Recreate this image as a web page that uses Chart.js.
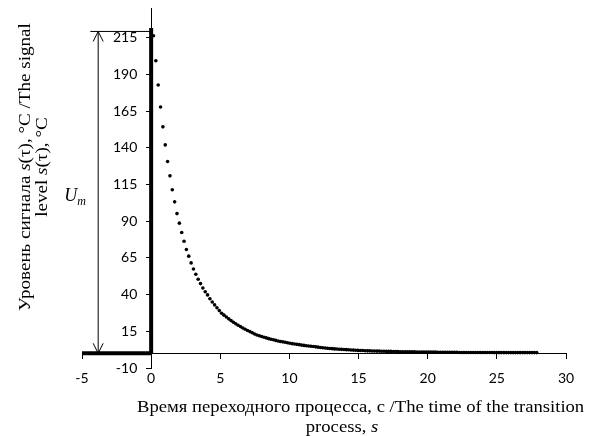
<!DOCTYPE html>
<html><head><meta charset="utf-8">
<script src="https://cdn.jsdelivr.net/npm/chart.js@4/dist/chart.umd.min.js"></script>
<style>html,body{margin:0;padding:0;background:#fff;}#wrap{width:590px;height:436px;position:relative;}</style>
</head><body><div id="wrap"><canvas id="c" width="590" height="436"></canvas></div>
<script>
// ---- data ----
const TIME_S = [0.17,0.34,0.51,0.68,0.85,1.02,1.19,1.36,1.53,1.70,1.87,2.04,2.21,2.38,2.55,2.72,2.89,3.06,3.23,3.40,
3.57,3.74,3.91,4.08,4.25,4.42,4.59,4.76,4.93,5.10,5.27,5.44,5.61,5.78,5.95,6.12,6.29,6.46,6.63,6.80,
6.97,7.14,7.31,7.48,7.65,7.82,7.99,8.16,8.33,8.50,8.67,8.84,9.01,9.18,9.35,9.52,9.69,9.86,10.03,10.20,
10.37,10.54,10.71,10.88,11.05,11.22,11.39,11.56,11.73,11.90,12.07,12.24,12.41,12.58,12.75,12.92,13.09,13.26,13.43,13.60,
13.77,13.94,14.11,14.28,14.45,14.62,14.79,14.96,15.13,15.30,15.47,15.64,15.81,15.98,16.15,16.32,16.49,16.66,16.83,17.00,
17.17,17.34,17.51,17.68,17.85,18.02,18.19,18.36,18.53,18.70,18.87,19.04,19.21,19.38,19.55,19.72,19.89,20.06,20.23,20.40,
20.57,20.74,20.91,21.08,21.25,21.42,21.59,21.76,21.93,22.10,22.27,22.44,22.61,22.78,22.95,23.12,23.29,23.46,23.63,23.80,
23.97,24.14,24.31,24.48,24.65,24.82,24.99,25.16,25.33,25.50,25.67,25.84,26.01,26.18,26.35,26.52,26.69,26.86,27.03,27.20,
27.37,27.54,27.71,27.88];
const SIGNAL_C = [216.4,199.3,182.8,167.8,154.3,142.0,130.7,120.9,111.4,103.2,95.2,88.7,82.3,76.4,70.7,66.2,61.6,57.5,53.9,50.5,
47.5,44.5,42.0,39.8,37.2,35.0,33.0,31.0,29.1,27.3,26.0,24.7,23.5,22.3,21.2,20.1,19.1,18.2,17.3,16.4,
15.6,14.8,14.0,13.2,12.5,12.0,11.5,11.0,10.5,10.0,9.6,9.2,8.8,8.4,8.1,7.8,7.5,7.2,6.9,6.6,
6.4,6.1,5.9,5.6,5.4,5.2,5.0,4.8,4.6,4.4,4.2,4.0,3.8,3.6,3.5,3.3,3.2,3.0,2.9,2.8,
2.7,2.6,2.5,2.4,2.3,2.2,2.1,2.0,1.9,1.9,1.8,1.7,1.7,1.6,1.6,1.5,1.5,1.4,1.4,1.3,
1.3,1.3,1.2,1.2,1.2,1.1,1.1,1.1,1.0,1.0,1.0,1.0,0.9,0.9,0.9,0.9,0.8,0.8,0.8,0.8,
0.8,0.7,0.7,0.7,0.7,0.7,0.7,0.7,0.7,0.7,0.6,0.6,0.6,0.6,0.6,0.6,0.6,0.6,0.6,0.6,
0.6,0.6,0.6,0.6,0.6,0.5,0.5,0.5,0.5,0.5,0.5,0.5,0.5,0.5,0.5,0.5,0.5,0.5,0.5,0.5,
0.5,0.5,0.5,0.5];
const X_TICKS = [-5,0,5,10,15,20,25,30];
const Y_TICKS = [-10,15,40,65,90,115,140,165,190,215];
const X_RANGE = [-5,30];
const Y_RANGE = [-10,235];
const Y_LABEL_AT_X = -1.0;   // where the y tick labels end (data units)
// Um annotation (data units)
const UM_X = -3.83;
const UM_LEVEL = 219.3;
const UM_LINE_START = -4.4;
const BASE_BAR_TOP = 221.6;
// titles (text runs: [text, italic])
const Y_TITLE_1 = [['Уровень сигнала ',0],['s',1],['(τ), °C /The signal',0]];
const Y_TITLE_2 = [['level ',0],['s',1],['(τ), °C',0]];
const X_TITLE_1 = [['Время переходного процесса, с /The time of the transition',0]];
const X_TITLE_2 = [['process, ',0],['s',1]];

const SERIF = '"Liberation Serif","Times New Roman",serif';
const TICK_FONT = {family:'Lato, "Open Sans", sans-serif', size:14};
const TITLE_SIZE = 17.5;

function drawRuns(ctx, runs, x, y, size, align, stretch){
  let total = 0; const ws = [];
  runs.forEach(r => { ctx.font = (r[1]?'italic ':'') + size + 'px ' + SERIF; const w = ctx.measureText(r[0]).width; ws.push(w); total += w; });
  ctx.save();
  ctx.translate(x, y); ctx.scale(stretch, 1);
  let cx = align === 'left' ? 0 : -total/2;
  runs.forEach((r,i) => { ctx.font = (r[1]?'italic ':'') + size + 'px ' + SERIF; ctx.fillText(r[0], cx, 0); cx += ws[i]; });
  ctx.restore();
}

const decor = {
  id:'decor',
  afterDatasetsDraw(chart){
    const ctx = chart.ctx, xs = chart.scales.x, ys = chart.scales.y;
    const ax = xs.getPixelForValue(UM_X), top = ys.getPixelForValue(UM_LEVEL), bot = ys.getPixelForValue(0);
    ctx.save();
    ctx.strokeStyle = '#000'; ctx.lineWidth = 1;
    ctx.beginPath();
    ctx.moveTo(ax-5, top+10); ctx.lineTo(ax, top); ctx.lineTo(ax+5, top+10);
    ctx.moveTo(ax-5, bot-10); ctx.lineTo(ax, bot); ctx.lineTo(ax+5, bot-10);
    ctx.stroke();
    ctx.fillStyle = '#000'; ctx.textBaseline = 'alphabetic'; ctx.textAlign = 'left';
    ctx.font = 'italic 18px ' + SERIF; ctx.fillText('U', ax-34, 201);
    const uw = ctx.measureText('U').width;
    ctx.font = 'italic 12px ' + SERIF; ctx.fillText('m', ax-34+uw, 205);
    ctx.restore();
  },
  afterDraw(chart){
    const ctx = chart.ctx;
    ctx.save(); ctx.fillStyle = '#000'; ctx.textBaseline = 'alphabetic'; ctx.textAlign = 'left';
    drawRuns(ctx, X_TITLE_1, 137, 412, TITLE_SIZE, 'left', 1.065);
    drawRuns(ctx, X_TITLE_2, 342, 432, TITLE_SIZE, 'center', 1.065);
    ctx.translate(30, 167); ctx.rotate(-Math.PI/2);
    drawRuns(ctx, Y_TITLE_1, 0, 0, TITLE_SIZE, 'center', 1.09);
    drawRuns(ctx, Y_TITLE_2, 0, 17, TITLE_SIZE, 'center', 1.09);
    ctx.restore();
  }
};

const lineDs = (data, w) => ({type:'scatter', data, showLine:true, borderColor:'#000', borderWidth:w, pointRadius:0, clip:false, order:1});

new Chart(document.getElementById('c'), {
  type:'scatter',
  data:{datasets:[
    {data: TIME_S.map((t,i)=>({x:t, y:SIGNAL_C[i]})), backgroundColor:'#000', borderColor:'#000', pointRadius:1.8, pointBorderWidth:0, order:0},
    lineDs([{x:0,y:0},{x:0,y:BASE_BAR_TOP}], 4),
    lineDs([{x:X_RANGE[0],y:0},{x:0,y:0}], 4),
    lineDs([{x:UM_LINE_START,y:UM_LEVEL},{x:0,y:UM_LEVEL}], 1),
    lineDs([{x:UM_X,y:0},{x:UM_X,y:UM_LEVEL}], 1)
  ]},
  options:{
    responsive:false, animation:false, devicePixelRatio:1,
    layout:{padding:{left:82,right:24,top:8,bottom:68}},
    plugins:{legend:{display:false}, tooltip:{enabled:false}},
    scales:{
      x:{type:'linear', min:X_RANGE[0], max:X_RANGE[1], position:{y:0},
        afterFit(s){ s.height = 0; },
        afterBuildTicks(s){ s.ticks = X_TICKS.map(v=>({value:v})); },
        ticks:{font:TICK_FONT, color:'#000', padding:12, maxRotation:0, autoSkip:false},
        grid:{drawOnChartArea:false, drawTicks:true, tickLength:5, color:'#000'},
        border:{color:'#000', width:1}},
      y:{type:'linear', min:Y_RANGE[0], max:Y_RANGE[1], position:{x:0},
        afterFit(s){ s.width = 0; },
        afterBuildTicks(s){ s.ticks = Y_TICKS.map(v=>({value:v})); },
        ticks:{display:false},
        grid:{drawOnChartArea:false, drawTicks:true, tickLength:5, color:'#000'},
        border:{color:'#000', width:1}},
      yLabels:{type:'linear', axis:'y', min:Y_RANGE[0], max:Y_RANGE[1], position:{x:Y_LABEL_AT_X},
        afterFit(s){ s.width = 0; },
        afterBuildTicks(s){ s.ticks = Y_TICKS.map(v=>({value:v})); },
        ticks:{font:TICK_FONT, color:'#000', padding:0, autoSkip:false},
        grid:{display:false, drawTicks:false},
        border:{display:false}}
    }
  },
  plugins:[decor]
});
</script></body></html>
